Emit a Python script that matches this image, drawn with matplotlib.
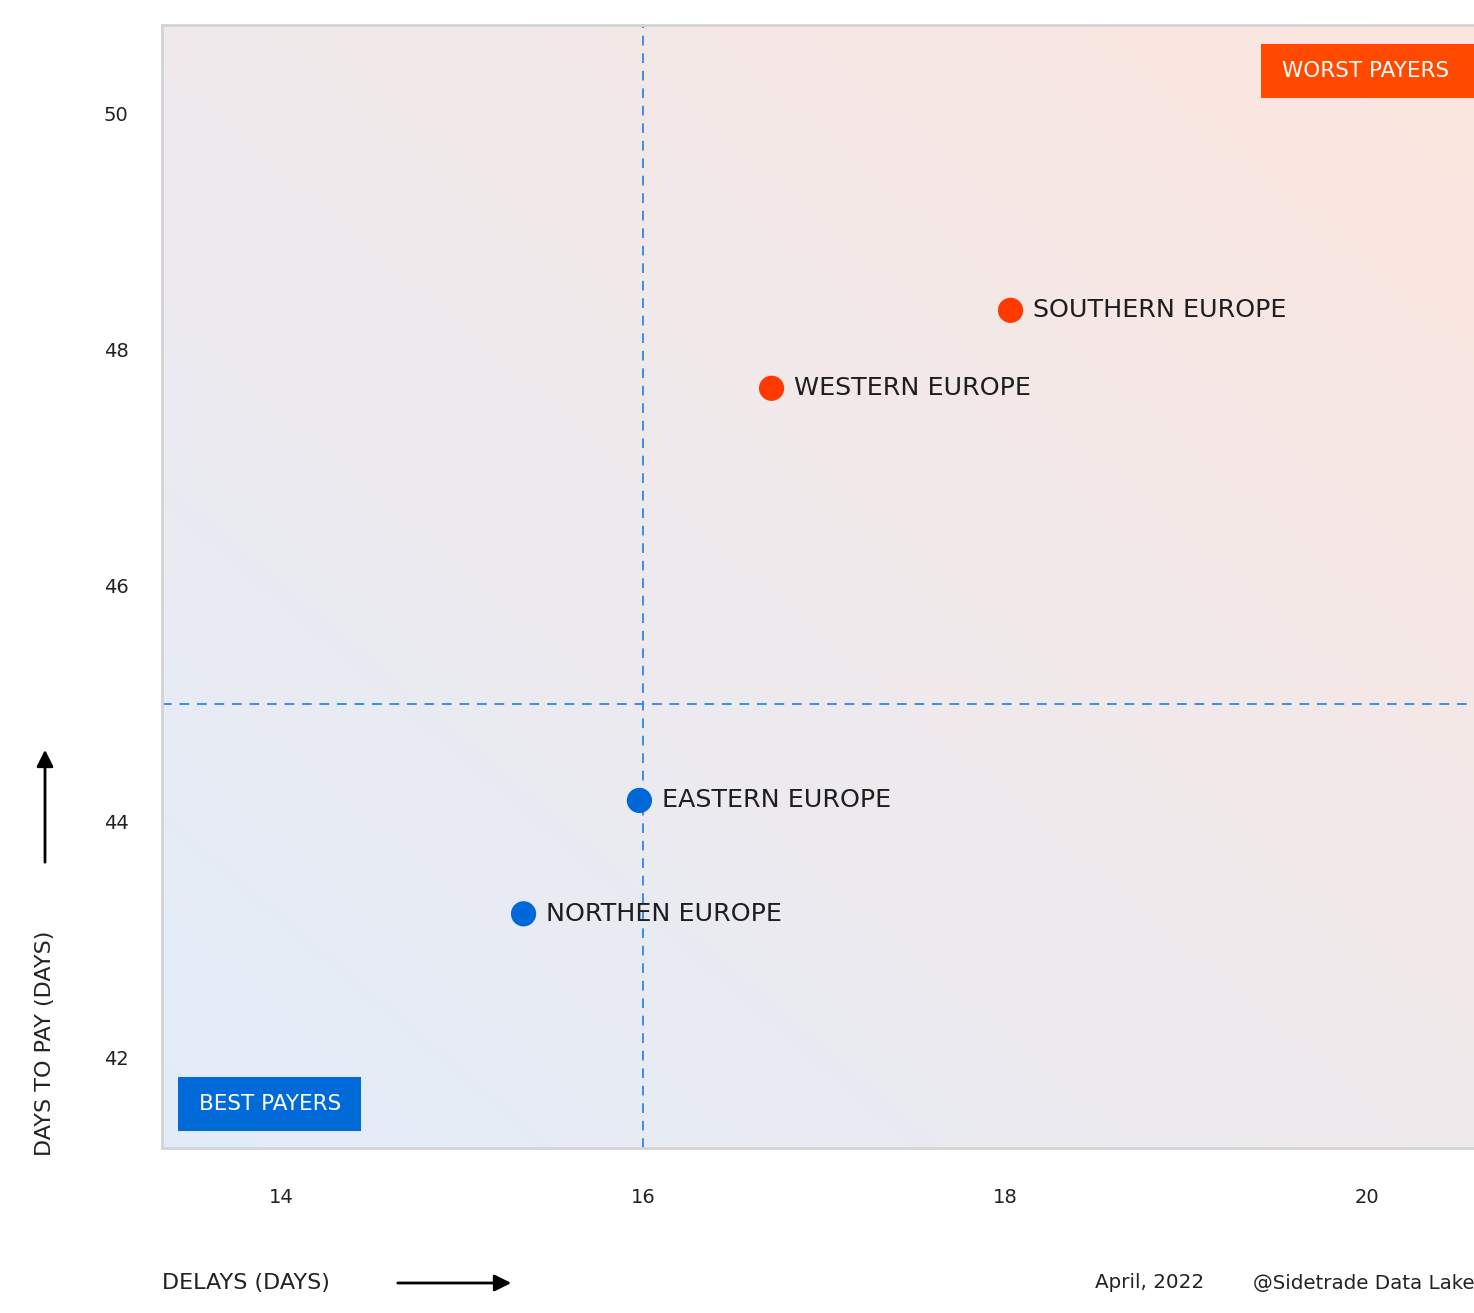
import numpy as np
import matplotlib as mpl
import matplotlib.pyplot as plt
from matplotlib.colors import to_rgb

mpl.rcParams['font.family'] = ['DejaVu Sans']

# data
regions = ['SOUTHERN EUROPE', 'WESTERN EUROPE', 'EASTERN EUROPE', 'NORTHEN EUROPE']
delays = [18.03, 16.71, 15.98, 15.34]
days_to_pay = [48.33, 47.67, 44.18, 43.22]
point_colors = ['#ff3a00', '#ff3a00', '#0068d9', '#0068d9']
x_ticks = [14, 16, 18, 20]
y_ticks = [42, 44, 46, 48, 50]
x_split = 16.0
y_split = 45.0

W, H = 1474, 1313

def fx(px):
    return px / W

def fy(py):
    return 1 - py / H

fig = plt.figure(figsize=(W / 100, H / 100), dpi=100)
ax = fig.add_axes([fx(162), fy(1148), 1 - fx(162), (1148 - 25) / H])
ax.set_xlim(13.343, 20.59)
ax.set_ylim(41.237, 50.746)

# diagonal background gradient: light blue bottom-left -> light salmon top-right
n = 200
gx, gy = np.meshgrid(np.linspace(0, 1, n), np.linspace(0, 1, n))
t = (gx + gy) / 2
c0 = np.array(to_rgb('#e2edfa'))
c1 = np.array(to_rgb('#fde6de'))
img = c0[None, None, :] * (1 - t[..., None]) + c1[None, None, :] * t[..., None]
ax.imshow(img, extent=[0, 1, 0, 1], transform=ax.transAxes, origin='lower',
          aspect='auto', zorder=0, interpolation='bicubic')

for side in ['top', 'bottom', 'left']:
    ax.spines[side].set_color('#d4d4d4')
    ax.spines[side].set_linewidth(2)
ax.spines['right'].set_visible(False)

ax.axvline(x_split, color='#3b8ee8', lw=1.4, ls=(0, (5, 4)), zorder=1)
ax.axhline(y_split, color='#3b8ee8', lw=1.4, ls=(0, (5, 4)), zorder=1)

ax.scatter(delays, days_to_pay, s=330, c=point_colors, zorder=3, linewidths=0)
for name, x, y in zip(regions, delays, days_to_pay):
    ax.annotate(name, (x, y), xytext=(16, 0), textcoords='offset points',
                va='center', ha='left', fontsize=18.3, color='#1e1e1e', zorder=4)

ax.set_xticks(x_ticks)
ax.set_yticks(y_ticks)
ax.tick_params(length=0, labelsize=14, colors='#222222')
ax.tick_params(axis='x', pad=29)
ax.tick_params(axis='y', pad=24)

# quadrant badges
fig.add_artist(mpl.patches.Rectangle((fx(1261), fy(98)), fx(1500) - fx(1261), (98 - 44) / H,
               transform=fig.transFigure, fc='#ff4a00', ec='none', zorder=5))
fig.text(fx(1282), fy(71), 'WORST PAYERS', ha='left', va='center',
         fontsize=15.5, color='white', zorder=6)
fig.add_artist(mpl.patches.Rectangle((fx(178), fy(1131)), (361 - 178) / W, (1131 - 1077) / H,
               transform=fig.transFigure, fc='#006ad8', ec='none', zorder=5))
fig.text(fx(270), fy(1104), 'BEST PAYERS', ha='center', va='center',
         fontsize=15.5, color='white', zorder=6)

# axis titles and arrows
fig.text(fx(162), fy(1283), 'DELAYS (DAYS)', ha='left', va='center',
         fontsize=16, color='#222222')
fig.text(fx(45), fy(1043), 'DAYS TO PAY (DAYS)', ha='center', va='center',
         rotation=90, fontsize=16, color='#222222')
fig.add_artist(mpl.patches.FancyArrowPatch((fx(395), fy(1283)), (fx(514), fy(1283)),
               transform=fig.transFigure, arrowstyle='-|>,head_length=10,head_width=5',
               color='black', lw=2))
fig.add_artist(mpl.patches.FancyArrowPatch((fx(45), fy(865)), (fx(45), fy(747)),
               transform=fig.transFigure, arrowstyle='-|>,head_length=10,head_width=5',
               color='black', lw=2))

fig.text(fx(1095), fy(1283), 'April, 2022', ha='left', va='center',
         fontsize=14.3, color='#222222')
fig.text(fx(1253), fy(1283), '@Sidetrade Data Lake', ha='left', va='center',
         fontsize=14.3, color='#222222')

fig.savefig('out.png', dpi=100)
